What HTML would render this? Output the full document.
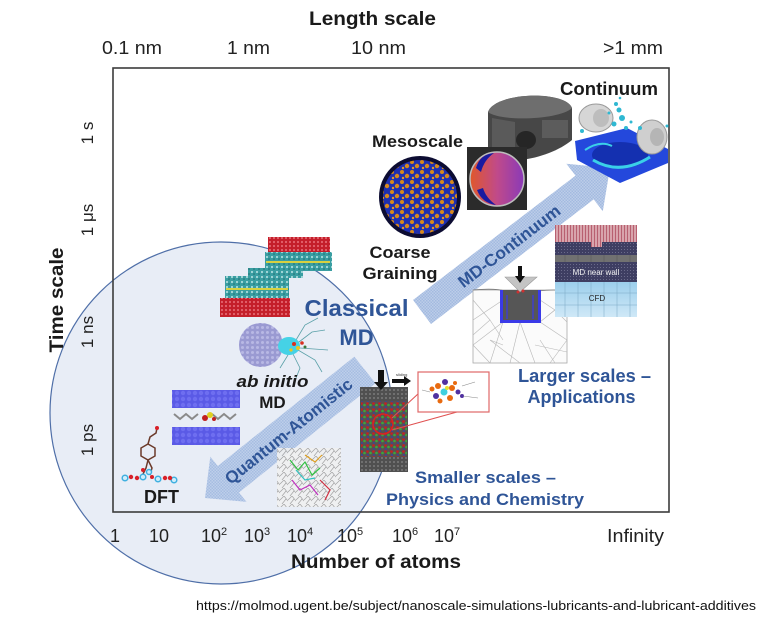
<!DOCTYPE html>
<html><head><meta charset="utf-8"><style>
html,body{margin:0;padding:0;background:#fff;}
svg{display:block;}
text{font-family:"Liberation Sans",Arial,sans-serif;}
</style></head><body>
<svg width="768" height="625" viewBox="0 0 768 625" xmlns="http://www.w3.org/2000/svg">
<defs>
 <pattern id="chk" width="3" height="3" patternUnits="userSpaceOnUse"><rect width="3" height="3" fill="#bccde9"/><rect width="1.5" height="1.5" fill="#a3bae0"/><rect x="1.5" y="1.5" width="1.5" height="1.5" fill="#a3bae0"/></pattern>
 <pattern id="spots" width="10" height="10" patternUnits="userSpaceOnUse"><rect width="10" height="10" fill="#1f2fb0"/><circle cx="2" cy="2" r="2" fill="#d8891c"/><circle cx="7" cy="6" r="2.2" fill="#d8891c"/><circle cx="3" cy="8" r="1.2" fill="#e09a2a"/></pattern>
 <pattern id="redp" width="4" height="4" patternUnits="userSpaceOnUse"><rect width="4" height="4" fill="#c41e2a"/><circle cx="2" cy="2" r="1.1" fill="#e4646e"/></pattern>
 <pattern id="tealp" width="5" height="5" patternUnits="userSpaceOnUse"><rect width="5" height="5" fill="#3a9ea2"/><circle cx="2" cy="2" r="1" fill="#bfe6e6"/><circle cx="4" cy="4" r="0.8" fill="#1e6e70"/></pattern>
 <pattern id="bluep" width="6" height="6" patternUnits="userSpaceOnUse"><rect width="6" height="6" fill="#5a5ae6"/><circle cx="3" cy="3" r="2.2" fill="#6e6ef0"/></pattern>
 <pattern id="lavp" width="5" height="5" patternUnits="userSpaceOnUse"><rect width="5" height="5" fill="#9a9ad2"/><circle cx="2.5" cy="2.5" r="1.5" fill="#b8b8e4"/></pattern>
 <pattern id="rg" width="6" height="6" patternUnits="userSpaceOnUse"><rect width="6" height="6" fill="#5a5050"/><circle cx="1.5" cy="1.5" r="1.3" fill="#c82020"/><circle cx="4.5" cy="3" r="1.3" fill="#3aa83a"/><circle cx="2" cy="5" r="0.9" fill="#3040b0"/></pattern>
 <pattern id="grayp" width="4" height="4" patternUnits="userSpaceOnUse"><rect width="4" height="4" fill="#505050"/><circle cx="2" cy="2" r="1" fill="#7a7a7a"/></pattern>
 <pattern id="meshp" width="8" height="8" patternUnits="userSpaceOnUse"><rect width="8" height="8" fill="#f0f0f0"/><path d="M0,4 L4,0 L8,5 M2,8 L6,3" stroke="#9a9a9a" stroke-width="0.7" fill="none"/></pattern>
 <pattern id="pinkp" width="3" height="3" patternUnits="userSpaceOnUse"><rect width="3" height="3" fill="#d8a4ac"/><rect width="1" height="3" fill="#b86070"/></pattern>
 <pattern id="navyp" width="3" height="3" patternUnits="userSpaceOnUse"><rect width="3" height="3" fill="#3e3e62"/><rect width="1" height="1" fill="#6a6a8a"/></pattern>
 <linearGradient id="disc" x1="0" x2="1"><stop offset="0" stop-color="#e0582a"/><stop offset="0.5" stop-color="#c04a8a"/><stop offset="1" stop-color="#8a3ab8"/></linearGradient>
 <linearGradient id="cfd" x1="0" y1="0" x2="0" y2="1"><stop offset="0" stop-color="#9ccfec"/><stop offset="1" stop-color="#cfe8f7"/></linearGradient>
</defs>

<!-- big circle -->
<circle cx="221" cy="413" r="171" fill="#e8edf6" stroke="#4f6fa8" stroke-width="1.2"/>

<!-- frame -->
<rect x="113" y="68" width="556" height="444" fill="none" stroke="#3c3c3c" stroke-width="1.6"/>

<!-- axis titles -->
<text x="372.5" y="25" font-size="19" font-weight="bold" text-anchor="middle" textLength="127" lengthAdjust="spacingAndGlyphs" fill="#1a1a1a">Length scale</text>
<text x="102" y="54" font-size="18" textLength="60" lengthAdjust="spacingAndGlyphs" fill="#222">0.1 nm</text>
<text x="227" y="54" font-size="18" textLength="43" lengthAdjust="spacingAndGlyphs" fill="#222">1 nm</text>
<text x="351" y="54" font-size="18" textLength="55" lengthAdjust="spacingAndGlyphs" fill="#222">10 nm</text>
<text x="603" y="54" font-size="18" textLength="60" lengthAdjust="spacingAndGlyphs" fill="#222">&gt;1 mm</text>

<text transform="translate(63,300) rotate(-90)" font-size="19" font-weight="bold" text-anchor="middle" textLength="105" lengthAdjust="spacingAndGlyphs" fill="#1a1a1a">Time scale</text>
<text transform="translate(93,133) rotate(-90)" font-size="17" text-anchor="middle" fill="#222">1 s</text>
<text transform="translate(93,220) rotate(-90)" font-size="17" text-anchor="middle" fill="#222">1 μs</text>
<text transform="translate(93,332) rotate(-90)" font-size="17" text-anchor="middle" fill="#222">1 ns</text>
<text transform="translate(93,440) rotate(-90)" font-size="17" text-anchor="middle" fill="#222">1 ps</text>

<g font-size="18" fill="#222">
 <text x="110" y="542">1</text>
 <text x="149" y="542">10</text>
 <text x="201" y="542">10<tspan font-size="11" dy="-7">2</tspan></text>
 <text x="244" y="542">10<tspan font-size="11" dy="-7">3</tspan></text>
 <text x="287" y="542">10<tspan font-size="11" dy="-7">4</tspan></text>
 <text x="337" y="542">10<tspan font-size="11" dy="-7">5</tspan></text>
 <text x="392" y="542">10<tspan font-size="11" dy="-7">6</tspan></text>
 <text x="434" y="542">10<tspan font-size="11" dy="-7">7</tspan></text>
 <text x="607" y="542" textLength="57" lengthAdjust="spacingAndGlyphs">Infinity</text>
</g>
<text x="291" y="568" font-size="19" font-weight="bold" textLength="170" lengthAdjust="spacingAndGlyphs" fill="#1a1a1a">Number of atoms</text>

<text x="196" y="610" font-size="13" textLength="560" lengthAdjust="spacingAndGlyphs" fill="#111">https://molmod.ugent.be/subject/nanoscale-simulations-lubricants-and-lubricant-additives</text>

<!-- MD-Continuum arrow -->
<polygon points="413,300 575.5,175.6 566.4,163.7 610,168 602.8,211.3 593.7,199.4 431,324" fill="url(#chk)"/>
<text transform="translate(509,246) rotate(-37.5)" dy="6" font-size="17" font-weight="bold" text-anchor="middle" textLength="124" lengthAdjust="spacingAndGlyphs" fill="#2f5597">MD-Continuum</text>

<!-- Quantum-Atomistic arrow -->
<polygon points="205,498 210.3,456.6 217.8,466 354.3,356.6 375.5,383.2 239,492.5 246.5,501.9" fill="url(#chk)" opacity="0.95"/>
<text transform="translate(288.5,431) rotate(-38.7)" dy="6" font-size="17" font-weight="bold" text-anchor="middle" textLength="158" lengthAdjust="spacingAndGlyphs" fill="#2f5597">Quantum-Atomistic</text>

<!-- Continuum: piston -->
<path d="M488,112 C495,92 565,90 572,108 L572,140 C560,150 540,158 520,160 L488,152 Z" fill="#474747"/>
<path d="M488,112 C495,92 565,90 572,108 C560,120 500,122 488,112 Z" fill="#6e6e6e"/>
<path d="M492,118 L492,148 L515,155 L515,122 Z" fill="#5a5a5a"/>
<ellipse cx="526" cy="140" rx="10" ry="9" fill="#262626"/>
<rect x="542" y="120" width="26" height="18" fill="#5c5c5c"/>

<!-- Continuum: gearbox -->
<polygon points="575,141 627,128 668,149 668,163 620,183 577,160" fill="#2448dc"/>
<ellipse cx="620" cy="155" rx="28" ry="13" fill="#1430b0"/>
<path d="M593,160 Q620,176 650,157" stroke="#3ad0e8" stroke-width="3" fill="none"/>
<path d="M585,150 Q600,140 612,146" stroke="#3ad0e8" stroke-width="2" fill="none"/>
<ellipse cx="596" cy="118" rx="17" ry="14" fill="#d6d6d6" stroke="#9a9a9a"/>
<ellipse cx="601" cy="118" rx="8" ry="9" fill="#bdbdbd"/>
<ellipse cx="652" cy="137" rx="15" ry="17" fill="#cfcfcf" stroke="#9a9a9a"/>
<ellipse cx="657" cy="137" rx="7" ry="9" fill="#b5b5b5"/>
<g fill="#2fb8d2">
 <circle cx="616" cy="104" r="2"/><circle cx="619" cy="110" r="2.5"/><circle cx="622" cy="118" r="3"/><circle cx="614" cy="124" r="2.5"/>
 <circle cx="626" cy="128" r="2"/><circle cx="631" cy="122" r="1.5"/><circle cx="609" cy="113" r="1.5"/><circle cx="620" cy="98" r="1.3"/>
 <circle cx="640" cy="128" r="2"/><circle cx="667" cy="126" r="1.5"/><circle cx="582" cy="131" r="2"/>
</g>
<text x="658" y="95" font-size="18" font-weight="bold" text-anchor="end" textLength="98" lengthAdjust="spacingAndGlyphs" fill="#1a1a1a">Continuum</text>

<!-- Mesoscale -->
<text x="417.5" y="147" font-size="17" font-weight="bold" text-anchor="middle" textLength="91" lengthAdjust="spacingAndGlyphs" fill="#1a1a1a">Mesoscale</text>
<circle cx="420" cy="197" r="41" fill="#0c0c32"/>
<circle cx="420" cy="197" r="37" fill="url(#spots)"/>
<rect x="467" y="147" width="60" height="63" fill="#2b2b2b"/>
<circle cx="497" cy="179" r="27" fill="url(#disc)" stroke="#bdbdbd" stroke-width="1.5"/>
<path d="M476,168 Q480,154 494,153 Q484,160 481,172 Z" fill="#1a1aa0"/>
<path d="M477,190 Q482,203 496,205 Q486,198 483,188 Z" fill="#1a1aa0"/>

<text x="400" y="258" font-size="17" font-weight="bold" text-anchor="middle" textLength="61" lengthAdjust="spacingAndGlyphs" fill="#1a1a1a">Coarse</text>
<text x="400" y="279" font-size="17" font-weight="bold" text-anchor="middle" textLength="75" lengthAdjust="spacingAndGlyphs" fill="#1a1a1a">Graining</text>

<!-- layered lubricant image -->
<rect x="268" y="237" width="62" height="15" fill="url(#redp)"/>
<rect x="265" y="252" width="67" height="19" fill="url(#tealp)"/>
<rect x="266" y="261" width="64" height="2" fill="#d8d040"/>
<rect x="248" y="268" width="55" height="10" fill="url(#tealp)"/>
<rect x="225" y="276" width="64" height="22" fill="url(#tealp)"/>
<rect x="226" y="288" width="62" height="2" fill="#d8d040"/>
<rect x="220" y="298" width="70" height="19" fill="url(#redp)"/>

<!-- Classical MD -->
<text x="356.5" y="316" font-size="23" font-weight="bold" text-anchor="middle" textLength="104" lengthAdjust="spacingAndGlyphs" fill="#2f5597">Classical</text>
<text x="356.5" y="345" font-size="22" font-weight="bold" text-anchor="middle" fill="#2f5597">MD</text>

<!-- protein -->
<g stroke="#5aa0a8" stroke-width="0.8" fill="none">
 <path d="M295,345 L312,332 L325,330"/><path d="M298,350 L315,360 L322,372"/><path d="M292,352 L300,368 L296,378"/>
 <path d="M296,340 L305,325 L318,318"/><path d="M300,348 L328,350"/><path d="M288,355 L280,368"/>
</g>
<circle cx="261" cy="345" r="22" fill="url(#lavp)"/>
<ellipse cx="289" cy="346" rx="11" ry="9" fill="#45d2e6"/>
<g><circle cx="294" cy="344" r="2" fill="#d83020"/><circle cx="298" cy="348" r="2" fill="#e8c820"/><circle cx="302" cy="343" r="1.8" fill="#d83020"/><circle cx="291" cy="350" r="1.6" fill="#e8c820"/><circle cx="305" cy="347" r="1.5" fill="#3a7a3a"/></g>

<text x="272.5" y="387" font-size="17" font-weight="bold" font-style="italic" text-anchor="middle" textLength="72" lengthAdjust="spacingAndGlyphs" fill="#1a1a1a">ab initio</text>
<text x="272.5" y="408" font-size="17" font-weight="bold" text-anchor="middle" fill="#1a1a1a">MD</text>

<!-- ab initio slabs -->
<rect x="172" y="390" width="68" height="18" fill="url(#bluep)"/>
<rect x="172" y="427" width="68" height="18" fill="url(#bluep)"/>
<g stroke="#8a8a8a" stroke-width="2" fill="none">
 <path d="M174,414 L180,419 L186,414 L192,419 L198,414"/><path d="M212,414 L218,419 L224,414 L230,419 L236,414"/>
</g>
<circle cx="205" cy="418" r="3" fill="#c02020"/><circle cx="210" cy="415" r="3" fill="#e0d020"/><circle cx="214" cy="419" r="2" fill="#c02020"/>

<!-- DFT molecule -->
<g stroke="#6b3a2a" stroke-width="1.5" fill="none">
 <polygon points="148,444 155,448 155,456 148,460 141,456 141,448"/>
 <path d="M148,444 L150,437 L156,433 L157,428"/>
 <path d="M148,460 L146,468 L143,474"/><path d="M148,460 L152,468 L150,475"/>
</g>
<g stroke="#40b0e0" stroke-width="1.5" fill="#cfeefc">
 <circle cx="125" cy="478" r="2.8"/><circle cx="143" cy="477" r="2.8"/><circle cx="149" cy="472" r="2.5"/><circle cx="158" cy="479" r="2.8"/><circle cx="174" cy="480" r="2.8"/>
</g>
<g fill="#d82028">
 <circle cx="131" cy="477" r="2.2"/><circle cx="137" cy="478" r="2.2"/><circle cx="152" cy="477" r="2"/><circle cx="165" cy="478" r="2.2"/><circle cx="170" cy="478" r="2.2"/><circle cx="157" cy="428" r="2"/><circle cx="143" cy="470" r="2"/>
</g>
<text x="161.5" y="503" font-size="18" font-weight="bold" text-anchor="middle" fill="#1a1a1a">DFT</text>

<!-- polymer mesh -->
<rect x="277" y="448" width="64" height="59" fill="url(#meshp)" opacity="0.9"/>
<g fill="none" stroke-width="1.2">
 <path d="M290,460 L298,470 L305,462 L312,475 L320,468" stroke="#30c040"/>
 <path d="M292,480 L300,490 L310,485 L318,495" stroke="#c030c0"/>
 <path d="M305,455 L315,462 L322,455" stroke="#e0a020"/>
 <path d="M296,470 L305,480 L315,478" stroke="#30c0c0"/>
 <path d="M320,480 L330,490 L325,500" stroke="#d03040"/>
</g>

<!-- MD column -->
<rect x="360" y="387" width="48" height="85" fill="url(#grayp)"/>
<rect x="361" y="401" width="46" height="56" fill="url(#rg)"/>
<circle cx="383" cy="424" r="10" fill="none" stroke="#e02020" stroke-width="1.5"/>
<polygon points="378,370 384,370 384,382 388,382 381,390 374,382 378,382" fill="#111"/>
<polygon points="392,379 404,379 404,376 411,381 404,386 404,383 392,383" fill="#111"/>
<text x="396" y="376" font-size="4" fill="#333">sliding</text>
<line x1="392" y1="418" x2="419" y2="393" stroke="#e05050" stroke-width="1"/>
<line x1="392" y1="430" x2="457" y2="412" stroke="#e05050" stroke-width="1"/>
<rect x="418" y="372" width="71" height="40" fill="#fff" stroke="#e06868" stroke-width="1.2"/>
<g>
 <circle cx="438" cy="386" r="3" fill="#e86a10"/><circle cx="445" cy="382" r="3" fill="#5030a0"/><circle cx="452" cy="388" r="3" fill="#e86a10"/>
 <circle cx="444" cy="392" r="3.5" fill="#40d0e0"/><circle cx="436" cy="396" r="3" fill="#5030a0"/><circle cx="450" cy="398" r="3" fill="#e86a10"/>
 <circle cx="458" cy="392" r="2.5" fill="#5030a0"/><circle cx="432" cy="389" r="2.5" fill="#e86a10"/><circle cx="440" cy="401" r="2.5" fill="#e86a10"/>
 <circle cx="447" cy="388" r="2" fill="#e8e030"/><circle cx="455" cy="383" r="2" fill="#e86a10"/><circle cx="462" cy="396" r="2" fill="#5030a0"/>
</g>
<g stroke="#888" stroke-width="0.6"><line x1="462" y1="386" x2="475" y2="382"/><line x1="463" y1="396" x2="478" y2="398"/><line x1="430" y1="392" x2="422" y2="390"/></g>

<text x="485.5" y="483" font-size="17" font-weight="bold" text-anchor="middle" textLength="141" lengthAdjust="spacingAndGlyphs" fill="#2f5597">Smaller scales –</text>
<text x="485" y="505" font-size="17" font-weight="bold" text-anchor="middle" textLength="198" lengthAdjust="spacingAndGlyphs" fill="#2f5597">Physics and Chemistry</text>

<!-- indenter mesh -->
<rect x="473" y="290" width="94" height="73" fill="#fbfbfb" stroke="#a8a8a8" stroke-width="0.8"/>
<g stroke="#b8b8b8" stroke-width="0.6" fill="none">
 <path d="M473,320 L503,300 M473,345 L503,322 M503,322 L490,363 M540,322 L567,300 M540,322 L567,340 M520,322 L510,363 M520,322 L535,363 M490,363 L473,345 M550,363 L567,340 M490,340 L520,363 M540,340 L555,363 M473,300 L490,320 L473,335 M555,310 L567,322 M490,320 L503,340 M535,345 L567,352 M503,345 L490,340 M540,300 L555,310 L540,322"/>
</g>
<path d="M473,290 Q495,288 505,291 L538,291 Q555,289 567,291" stroke="#777" stroke-width="0.8" fill="none"/>
<rect x="502" y="290" width="37" height="32" fill="#565656"/>
<g fill="#3a3ae8">
 <rect x="500" y="290" width="3" height="33"/><rect x="538" y="290" width="3" height="33"/><rect x="500" y="320" width="41" height="3"/>
 <rect x="506" y="295" width="2" height="24" opacity="0.6"/><rect x="532" y="295" width="2" height="24" opacity="0.6"/>
</g>
<polygon points="505,277 537,277 520,292" fill="#c4c4c4" stroke="#9a9a9a" stroke-width="0.6"/>
<polygon points="518,266 522,266 522,276 525,276 520,283 515,276 518,276" fill="#111"/>
<circle cx="518" cy="292" r="1.5" fill="#d03030"/><circle cx="523" cy="291" r="1.5" fill="#d03030"/>

<!-- MD near wall / CFD -->
<rect x="555" y="225" width="82" height="17" fill="url(#pinkp)"/>
<rect x="555" y="242" width="82" height="13" fill="url(#navyp)"/>
<rect x="591" y="240" width="11" height="7" fill="url(#pinkp)"/>
<rect x="555" y="255" width="82" height="7" fill="#717171"/>
<g stroke="#555" stroke-width="0.5"><line x1="565" y1="255" x2="565" y2="262"/><line x1="578" y1="255" x2="578" y2="262"/><line x1="591" y1="255" x2="591" y2="262"/><line x1="604" y1="255" x2="604" y2="262"/><line x1="617" y1="255" x2="617" y2="262"/><line x1="630" y1="255" x2="630" y2="262"/></g>
<rect x="555" y="262" width="82" height="20" fill="url(#navyp)"/>
<rect x="555" y="282" width="82" height="35" fill="url(#cfd)"/>
<g stroke="#7aa8c4" stroke-width="0.5"><line x1="565" y1="282" x2="565" y2="317"/><line x1="578" y1="282" x2="578" y2="317"/><line x1="591" y1="282" x2="591" y2="317"/><line x1="604" y1="282" x2="604" y2="317"/><line x1="617" y1="282" x2="617" y2="317"/><line x1="630" y1="282" x2="630" y2="317"/><line x1="555" y1="293" x2="637" y2="293"/><line x1="555" y1="305" x2="637" y2="305"/></g>
<text x="596" y="275" font-size="8" text-anchor="middle" fill="#f0f0f0">MD near wall</text>
<text x="597" y="301" font-size="8" text-anchor="middle" fill="#222">CFD</text>

<text x="584.5" y="382" font-size="18" font-weight="bold" text-anchor="middle" textLength="133" lengthAdjust="spacingAndGlyphs" fill="#2f5597">Larger scales –</text>
<text x="581.5" y="403" font-size="18" font-weight="bold" text-anchor="middle" textLength="108" lengthAdjust="spacingAndGlyphs" fill="#2f5597">Applications</text>
</svg>
</body></html>
